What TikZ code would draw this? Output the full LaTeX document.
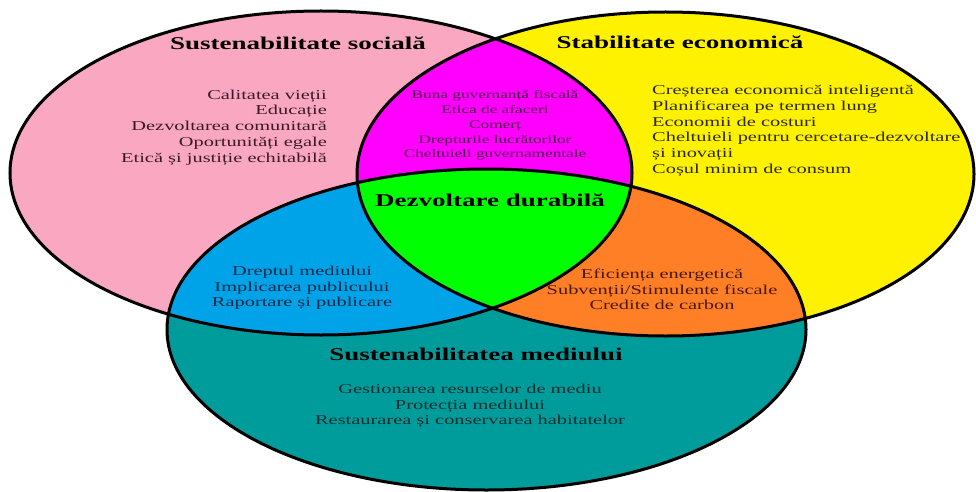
\documentclass[tikz,border=0pt]{standalone}
\usepackage{fontspec}
\setmainfont{Liberation Serif}
\definecolor{pinkc}{HTML}{FAA8C2}
\definecolor{yellowc}{HTML}{FFF200}
\definecolor{magc}{HTML}{FF00FF}
\definecolor{greenc}{HTML}{00FF00}
\definecolor{bluec}{HTML}{00A2E8}
\definecolor{orangec}{HTML}{FF7F27}
\definecolor{tealc}{HTML}{009C9C}
\definecolor{txpink}{HTML}{3A1A28}
\definecolor{txmag}{HTML}{4A0046}
\definecolor{txyel}{HTML}{2E2A00}
\definecolor{txblue}{HTML}{0A2A48}
\definecolor{txorange}{HTML}{4A1800}
\definecolor{txteal}{HTML}{062E2E}
\newcommand\stx[1]{\scalebox{1.5}[1]{#1}}
\begin{document}
\begin{tikzpicture}[x=1pt,y=-1pt,
  ttl/.style={font=\fontsize{18}{20}\selectfont\bfseries, inner sep=0pt, text=black},
  lst/.style={font=\fontsize{13.6}{15.7}\selectfont, inner sep=0pt},
  lstsmall/.style={font=\fontsize{11.5}{14.75}\selectfont, inner sep=0pt},
  rim/.style={draw=black, line width=3pt}]
\useasboundingbox (0,0) rectangle (976,492);
\fill[white] (0,0) rectangle (976,492);
\def\pinkE{(321,173) ellipse [x radius=311, y radius=162]}
\def\yellowE{(665.5,174) ellipse [x radius=308.5, y radius=162]}
\def\tealE{(486.5,329.5) ellipse [x radius=319.5, y radius=160.5]}
\fill[pinkc] \pinkE;
\fill[yellowc] \yellowE;
\fill[tealc] \tealE;
\begin{scope}\clip \pinkE; \fill[magc] \yellowE;\end{scope}
\begin{scope}\clip \pinkE; \fill[bluec] \tealE;\end{scope}
\begin{scope}\clip \yellowE; \fill[orangec] \tealE;\end{scope}
\begin{scope}\clip \pinkE; \clip \yellowE; \fill[greenc] \tealE;\end{scope}
\draw[rim] \pinkE;
\draw[rim] \yellowE;
\draw[rim] \tealE;

\node[ttl] (tsoc) at (298,43) {\stx{Sustenabilitate socială}};
\node[lst, text=txpink, anchor=east] (lsoc) at (327,127.5) {\stx{\begin{tabular}{@{}r@{}}Calitatea vieții\\Educație\\Dezvoltarea comunitară\\Oportunități egale\\Etică și justiție echitabilă\end{tabular}}};

\node[ttl] (teco) at (680,42) {\stx{Stabilitate economică}};
\node[lst, text=txyel, anchor=west] (leco) at (652,131) {\stx{\begin{tabular}{@{}l@{}}Creșterea economică inteligentă\\Planificarea pe termen lung\\Economii de costuri\\Cheltuieli pentru cercetare-dezvoltare\\și inovații\\Coșul minim de consum\end{tabular}}};

\node[lstsmall, text=txmag] (lmag) at (495,125.5) {\stx{\begin{tabular}{@{}c@{}}Buna guvernanță fiscală\\Etica de afaceri\\Comerț\\Drepturile lucrătorilor\\Cheltuieli guvernamentale\end{tabular}}};

\node[ttl] (tdur) at (490,200) {\stx{Dezvoltare durabilă}};

\node[lst, text=txblue] (lblue) at (302,288) {\stx{\begin{tabular}{@{}c@{}}Dreptul mediului\\Implicarea publicului\\Raportare și publicare\end{tabular}}};

\node[lst, text=txorange] (lorange) at (662,291) {\stx{\begin{tabular}{@{}c@{}}Eficiența energetică\\Subvenții/Stimulente fiscale\\Credite de carbon\end{tabular}}};

\node[ttl] (tmed) at (476,354) {\stx{Sustenabilitatea mediului}};
\node[lst, text=txteal] (lmed) at (470,406) {\stx{\begin{tabular}{@{}c@{}}Gestionarea resurselor de mediu\\Protecția mediului\\Restaurarea și conservarea habitatelor\end{tabular}}};
\end{tikzpicture}
\end{document}
